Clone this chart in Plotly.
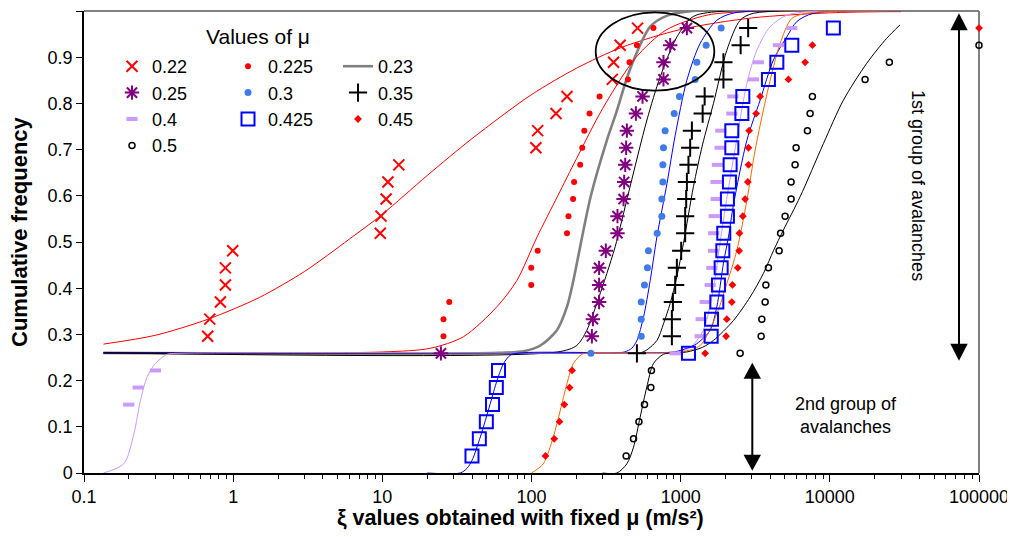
import plotly.graph_objects as go

FONT = "Arial, Liberation Sans, sans-serif"

# ---------------- data ----------------
k_levels_g2 = [0.037, 0.074, 0.111, 0.148, 0.185, 0.222]
k_levels_g1 = [0.259, 0.296, 0.333, 0.370, 0.407, 0.444, 0.481, 0.519, 0.556, 0.593,
               0.630, 0.667, 0.704, 0.741, 0.778, 0.815, 0.852, 0.889, 0.926, 0.963]

# measured points
mu022_x = [0.675, 0.697, 0.821, 0.887, 0.887, 0.993, 9.69, 9.80, 10.6, 10.9, 12.9,
           107, 110, 146, 173, 348, 355, 393, 514]
mu022_y = k_levels_g1[1:]

mu0225_x = [25.7, 25.7, 28.1, 99.6, 99.6, 110, 173, 177, 190, 193, 212, 219, 226,
            245, 286, 443, 454, 509, 657]
mu0225_y = k_levels_g1[1:]

mu025_x = [24.7, 254, 258, 284, 284, 284, 315, 377, 377, 414, 418, 425, 431, 436,
           501, 555, 767, 767, 851, 1101]
mu025_y = k_levels_g1

mu03_x = [250, 544, 544, 544, 572, 599, 608, 696, 748, 748, 760, 760, 767, 787,
          905, 982, 1251, 1284, 1482, 1868]
mu03_y = k_levels_g1

mu035_x = [509, 873, 873, 887, 919, 943, 1008, 1072, 1072, 1089, 1101, 1128, 1158,
           1189, 1404, 1448, 1935, 1935, 2524, 2834]
mu035_y = k_levels_g1

mu04_x = [0.1995, 0.2307, 0.3013,
          919, 1351, 1372, 1459, 1576, 1618, 1660, 1665, 1677, 1729, 1729, 1764,
          1839, 1858, 2203, 2238, 3074, 3321, 4521, 5559]
mu04_y = k_levels_g2[3:] + k_levels_g1

mu0425_x = [39.9, 44.7, 49.8, 54.8, 58.1, 60.1,
            1128, 1601, 1610, 1748, 1792, 1868, 1917, 1945, 2058, 2058, 2123, 2146,
            2203, 2203, 2572, 2611, 3876, 4413, 5559, 10560]
mu0425_y = k_levels_g2 + k_levels_g1

mu045_x = [124, 142, 154, 166, 180, 187,
           1459, 2017, 2039, 2203, 2223, 2416, 2466, 2477, 2611, 2705, 2820, 2847,
           2847, 2877, 3206, 3410, 5277, 6828, 7641, 100000]
mu045_y = k_levels_g2 + k_levels_g1

mu05_x = [431, 483, 525, 572, 631, 637,
          2504, 3463, 3501, 3684, 3724, 3876, 4571, 4677, 5013, 5500, 5500, 5849,
          5942, 7075, 7375, 7638, 17230, 25060, 100000]
mu05_y = k_levels_g2 + k_levels_g1[:-1]

# fitted curves
c022_x = [0.135, 0.3, 0.68, 1.5, 3, 6, 10, 20, 40, 100, 200, 400, 1000, 3000, 10000, 30000]
c022_y = [0.279, 0.298, 0.333, 0.380, 0.436, 0.506, 0.560, 0.644, 0.724, 0.819, 0.876,
          0.921, 0.960, 0.985, 0.996, 0.999]

c0225_x = [0.135, 10, 21, 35, 58.7, 79.9, 109, 150, 200, 300, 500, 800, 1500, 3000, 30000]
c0225_y = [0.26, 0.262, 0.27, 0.295, 0.36, 0.417, 0.511, 0.6, 0.68, 0.789, 0.899, 0.959,
           0.991, 0.999, 1.0]

c023_x = [0.135, 60, 90, 114.5, 148, 173, 191, 212, 250, 320, 370, 459, 625, 811, 1200, 30000]
c023_y = [0.26, 0.26, 0.264, 0.276, 0.309, 0.36, 0.417, 0.49, 0.6, 0.72, 0.78, 0.875,
          0.966, 0.99, 1.0, 1.0]

c025_x = [0.135, 150, 201, 235, 274, 320, 364, 450, 594, 730, 944, 1213, 2000, 30000]
c025_y = [0.26, 0.262, 0.276, 0.309, 0.367, 0.432, 0.49, 0.61, 0.764, 0.858, 0.944,
          0.988, 1.0, 1.0]

c03_x = [0.135, 300, 420, 470, 509, 564, 625, 693, 810, 918, 1100, 1351, 1748, 2300, 30000]
c03_y = [0.26, 0.26, 0.262, 0.27, 0.287, 0.338, 0.417, 0.511, 0.627, 0.73, 0.85, 0.93,
         0.98, 0.996, 1.0]

c035_x = [0.135, 400, 560, 693, 767, 850, 943, 1044, 1218, 1400, 1659, 2039, 2504, 3074, 30000]
c035_y = [0.26, 0.26, 0.262, 0.287, 0.323, 0.367, 0.425, 0.497, 0.62, 0.71, 0.80, 0.915,
          0.98, 0.995, 1.0]

c04_x = [0.135, 0.185, 0.216, 0.239, 0.265, 0.301, 0.361, 0.42, 600, 900, 1150, 1422,
         1659, 1839, 2100, 2400, 2778, 3241, 3979, 5147, 7010, 30000]
c04_y = [0.0, 0.02, 0.085, 0.157, 0.208, 0.237, 0.257, 0.259, 0.26, 0.262, 0.27, 0.31,
         0.40, 0.50, 0.62, 0.73, 0.843, 0.915, 0.966, 0.991, 0.998, 1.0]

c0425_x = [20, 33.3, 36.9, 39.9, 45.4, 52.9, 58.7, 65.0, 72.1, 84, 500, 900, 1100, 1284,
           1576, 1748, 1935, 2091, 2258, 2778, 3410, 4186, 5147, 6004, 7757, 30000]
c0425_y = [0.0, 0.0, 0.01, 0.027, 0.078, 0.15, 0.20, 0.237, 0.255, 0.26, 0.26, 0.262,
           0.27, 0.28, 0.309, 0.36, 0.454, 0.511, 0.58, 0.72, 0.807, 0.894, 0.944, 0.977,
           0.995, 1.0]

c045_x = [100, 120, 140, 156, 173, 191, 218, 248, 1000, 1351, 1748, 2039, 2380, 2778,
          3157, 3587, 4084, 4642, 5559, 7010, 10560, 30000]
c045_y = [0.0, 0.02, 0.078, 0.136, 0.194, 0.237, 0.257, 0.26, 0.262, 0.276, 0.345, 0.41,
          0.482, 0.59, 0.699, 0.786, 0.865, 0.93, 0.984, 0.995, 0.999, 1.0]

c05_x = [300, 374, 436, 483, 535, 593, 657, 767, 895, 1100, 1400, 1659, 2258, 2922, 3587,
         4200, 4885, 6321, 9054, 12330, 17690, 24070, 29560]
c05_y = [0.0, 0.0, 0.02, 0.056, 0.121, 0.186, 0.237, 0.257, 0.26, 0.262, 0.272, 0.287,
         0.33, 0.381, 0.432, 0.482, 0.526, 0.598, 0.713, 0.807, 0.887, 0.941, 0.970]

x_tick_vals = [0.1, 1, 10, 100, 1000, 10000, 100000]
x_tick_text = ["0.1", "1", "10", "100", "1000", "10000", "100000"]

# ---------------- figure ----------------
fig = go.Figure()

def curve(x, y, color, name, width=1.0, legend=None, show=False, rank=1000):
    fig.add_trace(go.Scatter(
        x=x, y=y, mode="lines", name=name,
        line=dict(color=color, width=width, shape="spline", smoothing=0.8),
        showlegend=show, legend=legend, legendgroup=name, legendrank=rank,
        hoverinfo="skip"))

curve(c022_x, c022_y, "#FF0000", "fit 0.22")
curve(c023_x, c023_y, "#808080", "0.23", 2.6, legend="legend3", show=True, rank=1)
curve(c0225_x, c0225_y, "#FF0000", "fit 0.225")
curve(c025_x, c025_y, "#000000", "fit 0.25")
curve(c03_x, c03_y, "#0000FF", "fit 0.3")
curve(c035_x, c035_y, "#000000", "fit 0.35")
curve(c04_x, c04_y, "#CC99FF", "fit 0.4")
curve(c0425_x, c0425_y, "#0000FF", "fit 0.425")
curve(c045_x, c045_y, "#FF6600", "fit 0.45")
curve(c05_x, c05_y, "#000000", "fit 0.5")

def pts(x, y, name, legend, rank, symbol, size, color, lw=0, lcolor=None, clip=True):
    fig.add_trace(go.Scatter(
        x=x, y=y, mode="markers", name=name, legend=legend, legendgroup=name,
        legendrank=rank, cliponaxis=clip,
        marker=dict(symbol=symbol, size=size, color=color,
                    line=dict(width=lw, color=lcolor or color))))

pts(mu022_x, mu022_y, "0.22", "legend", 1, "x-thin", 11, "#FF0000", 2)
pts(mu0225_x, mu0225_y, "0.225", "legend2", 1, "circle", 6, "#FF0000")
pts(mu025_x, mu025_y, "0.25", "legend", 2, "asterisk", 12, "#800080", 2)
pts(mu03_x, mu03_y, "0.3", "legend2", 2, "circle", 7, "#3F7BEA")
pts(mu035_x, mu035_y, "0.35", "legend3", 2, "cross-thin", 13, "#000000", 2)
pts(mu04_x, mu04_y, "0.4", "legend", 3, "line-ew", 8, "#CC99FF", 4)
pts(mu0425_x, mu0425_y, "0.425", "legend2", 3, "square-open", 13, "#0000FF", 2)
pts(mu045_x, mu045_y, "0.45", "legend3", 3, "diamond", 6, "#FF0000", clip=False)
pts(mu05_x, mu05_y, "0.5", "legend", 4, "circle-open", 6, "#000000", 1.5, clip=False)

# ---------------- layout ----------------
# the page places the figure 8px in from the top-left corner; the plot area
# should land on screen at x 84..979, y 11..473
OFF = 8
W, H = 1015 - OFF, 537 - OFF
L, T = 84 - OFF, 11 - OFF
R = W - (979 - OFF)
B = H - (473 - OFF)
PW, PH = 979 - 84, 473 - 11

def px(xs):
    return (xs - 84) / PW

def py(ys):
    return (473 - ys) / PH

leg_common = dict(font=dict(family=FONT, size=18, color="#000"), bgcolor="rgba(0,0,0,0)",
                  xanchor="left", yanchor="top", tracegroupgap=0, itemwidth=30,
                  orientation="v")
legend_top = py(48)

shapes = [
    dict(type="line", xref="paper", yref="paper", x0=0, x1=1, y0=1, y1=1,
         line=dict(color="#808080", width=2), layer="below"),
    dict(type="line", xref="paper", yref="paper", x0=1, x1=1, y0=0, y1=1,
         line=dict(color="#808080", width=2), layer="below"),
    dict(type="circle", xref="paper", yref="paper", x0=px(595.7), x1=px(714.3),
         y0=py(90.7), y1=py(12.3), line=dict(color="#000", width=1.8)),
]

def v_arrow(xc, ytop, ybot, hw=8.7, hh=17):
    out = [dict(type="line", xref="paper", yref="paper", x0=px(xc), x1=px(xc),
                y0=py(ytop + hh - 1), y1=py(ybot - hh + 1),
                line=dict(color="#000", width=2))]
    out.append(dict(type="path", xref="paper", yref="paper",
                    path=f"M {px(xc)},{py(ytop)} L {px(xc - hw)},{py(ytop + hh)} "
                         f"L {px(xc + hw)},{py(ytop + hh)} Z",
                    fillcolor="#000", line=dict(color="#000", width=0)))
    out.append(dict(type="path", xref="paper", yref="paper",
                    path=f"M {px(xc)},{py(ybot)} L {px(xc - hw)},{py(ybot - hh)} "
                         f"L {px(xc + hw)},{py(ybot - hh)} Z",
                    fillcolor="#000", line=dict(color="#000", width=0)))
    return out

shapes += v_arrow(959, 13.3, 360.7)
shapes += v_arrow(752.3, 362.7, 470.7, hh=16)

def note(text, xs, ys, size, bold=False, angle=0):
    return dict(text=f"<b>{text}</b>" if bold else text, xref="paper", yref="paper",
                x=px(xs), y=py(ys), xanchor="center", yanchor="middle",
                textangle=angle, showarrow=False,
                font=dict(family=FONT, size=size, color="#000"))

annotations = [
    note("Values of μ", 258, 36, 21),
    note("1st group of avalanches", 918, 185, 18, angle=90),
    note("2nd group of<br>avalanches", 846, 415, 18),
    note("ξ values obtained with fixed μ (m/s²)", 520, 518, 21.5, bold=True),
    note("Cumulative frequency", 20, 232, 22, bold=True, angle=-90),
]

minor_vals = [m * 10 ** e for e in range(-1, 5) for m in range(2, 10)]

fig.update_layout(
    width=W, height=H,
    margin=dict(l=L, r=R, t=T, b=B, pad=0),
    paper_bgcolor="white", plot_bgcolor="white",
    font=dict(family=FONT, size=18, color="#000"),
    xaxis=dict(type="log", range=[-1, 5], tickvals=x_tick_vals, ticktext=x_tick_text,
               automargin=False,
               showgrid=False, zeroline=False, showline=True, linecolor="#000",
               linewidth=1.5, ticks="outside", ticklen=7, tickwidth=1.2, tickcolor="#000",
               tickfont=dict(family=FONT, size=18, color="#000"),
               minor=dict(tickvals=minor_vals, ticks="outside", ticklen=4,
                          tickwidth=1, tickcolor="#000", showgrid=False)),
    yaxis=dict(range=[0, 1], dtick=0.1, tick0=0, showgrid=False, zeroline=False,
               automargin=False,
               showline=True, linecolor="#000", linewidth=1.5, ticks="outside",
               ticklen=6, tickwidth=1.2, tickcolor="#000",
               tickfont=dict(family=FONT, size=18, color="#000")),
    legend=dict(x=px(112), y=legend_top, **leg_common),
    legend2=dict(x=px(228), y=legend_top, **leg_common),
    legend3=dict(x=px(338), y=legend_top, **leg_common),
    shapes=shapes,
    annotations=annotations,
    showlegend=True,
)

fig.write_html("out.html")
